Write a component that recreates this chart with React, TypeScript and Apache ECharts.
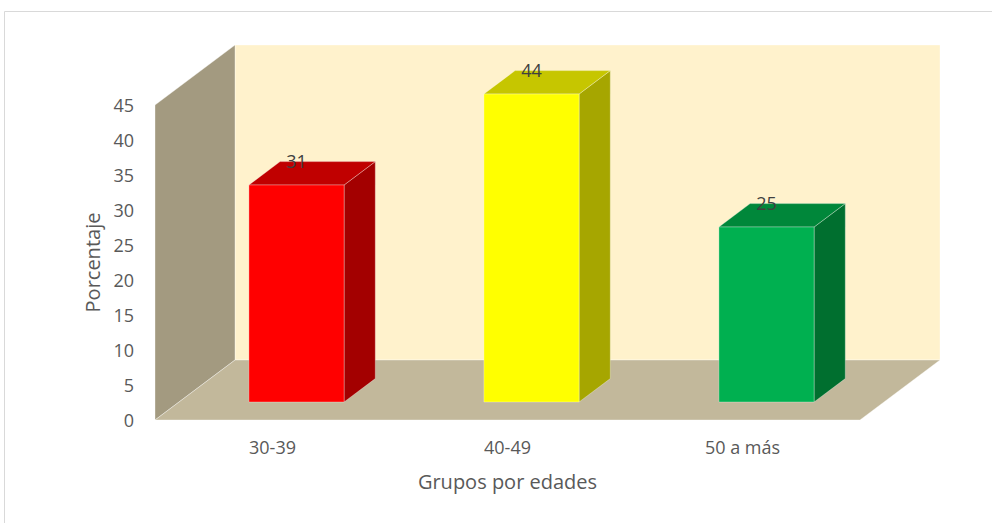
import React, { useEffect, useRef } from "react";
import * as echarts from "echarts";

const categories = ["30-39", "40-49", "50 a más"];
const values = [31, 44, 25];
const yMin = 0;
const yMax = 45;
const yStep = 5;

const frontColors = ["#FF0000", "#FFFF00", "#00B050"];
const topColors = ["#C00000", "#C6C600", "#00873A"];
const sideColors = ["#A30000", "#A6A600", "#006F2F"];

const DEPTH_X = 80;
const DEPTH_Y = -60;
const BAR_D0 = 0.3;
const BAR_D1 = 0.69;
const BAR_W = 0.405;
const FONT = '"Open Sans", "Liberation Sans", sans-serif';

export default function App() {
  const ref = useRef<HTMLDivElement>(null);
  useEffect(() => {
    if (!ref.current) return;
    const chart = echarts.init(ref.current, null, { renderer: "svg" });
    const option: any = {
      animation: false,
      backgroundColor: "#FFFFFF",
      graphic: [
        {
          type: "rect",
          shape: { x: 4.5, y: 11.5, width: 1100, height: 700 },
          style: { fill: "none", stroke: "#D9D9D9", lineWidth: 1 },
          silent: true,
          z: 0,
        },
      ],
      grid: { left: 155, right: 132, top: 105, bottom: 103, containLabel: false },
      xAxis: {
        type: "category",
        data: categories,
        axisLine: { show: false },
        axisTick: { show: false },
        axisLabel: { color: "#595959", fontSize: 18, fontFamily: FONT, margin: 18 },
        name: "Grupos por edades",
        nameLocation: "middle",
        nameGap: 51,
        nameTextStyle: { color: "#595959", fontSize: 20, fontFamily: FONT },
      },
      yAxis: {
        type: "value",
        min: yMin,
        max: yMax,
        interval: yStep,
        axisLine: { show: false },
        axisTick: { show: false },
        splitLine: { show: false },
        axisLabel: { color: "#595959", fontSize: 18, fontFamily: FONT, margin: 21 },
        name: "Porcentaje",
        nameLocation: "middle",
        nameGap: 53,
        nameTextStyle: { color: "#595959", fontSize: 20, fontFamily: FONT },
      },
      series: [
        {
          type: "custom",
          z: 1,
          clip: false,
          silent: true,
          data: [[0, 0]],
          renderItem: (params: any, api: any) => {
            const cs = params.coordSys;
            const x0 = cs.x;
            const x1 = cs.x + cs.width;
            const yT = cs.y;
            const yB = cs.y + cs.height;
            const edge = "rgba(255,255,255,0.35)";
            return {
              type: "group",
              children: [
                {
                  type: "polygon",
                  shape: {
                    points: [
                      [x0 + DEPTH_X, yT + DEPTH_Y],
                      [x1 + DEPTH_X, yT + DEPTH_Y],
                      [x1 + DEPTH_X, yB + DEPTH_Y],
                      [x0 + DEPTH_X, yB + DEPTH_Y],
                    ],
                  },
                  style: { fill: "#FFF2CC", stroke: edge, lineWidth: 1 },
                },
                {
                  type: "polygon",
                  shape: {
                    points: [
                      [x0, yB],
                      [x0, yT],
                      [x0 + DEPTH_X, yT + DEPTH_Y],
                      [x0 + DEPTH_X, yB + DEPTH_Y],
                    ],
                  },
                  style: { fill: "#A39A80", stroke: edge, lineWidth: 1 },
                },
                {
                  type: "polygon",
                  shape: {
                    points: [
                      [x0, yB],
                      [x0 + DEPTH_X, yB + DEPTH_Y],
                      [x1 + DEPTH_X, yB + DEPTH_Y],
                      [x1, yB],
                    ],
                  },
                  style: { fill: "#C2B89B", stroke: edge, lineWidth: 1 },
                },
              ],
            };
          },
        },
        {
          type: "custom",
          z: 2,
          clip: false,
          data: values.map((v, i) => [i, v]),
          renderItem: (params: any, api: any) => {
            const i = api.value(0);
            const v = api.value(1);
            const base = api.coord([i, 0]);
            const top = api.coord([i, v]);
            const w = api.size([1, 0])[0] * BAR_W;
            const ox = DEPTH_X * BAR_D0;
            const oy = DEPTH_Y * BAR_D0;
            const dx = DEPTH_X * (BAR_D1 - BAR_D0);
            const dy = DEPTH_Y * (BAR_D1 - BAR_D0);
            const l = base[0] - w / 2 + ox;
            const r = base[0] + w / 2 + ox;
            const b = base[1] + oy;
            const t = top[1] + oy;
            const edge = "rgba(255,255,255,0.3)";
            return {
              type: "group",
              children: [
                {
                  type: "polygon",
                  shape: { points: [[r, b], [r, t], [r + dx, t + dy], [r + dx, b + dy]] },
                  style: { fill: sideColors[i], stroke: edge, lineWidth: 1 },
                },
                {
                  type: "polygon",
                  shape: { points: [[l, t], [r, t], [r + dx, t + dy], [l + dx, t + dy]] },
                  style: { fill: topColors[i], stroke: edge, lineWidth: 1 },
                },
                {
                  type: "rect",
                  shape: { x: l, y: t, width: r - l, height: b - t },
                  style: { fill: frontColors[i], stroke: edge, lineWidth: 1 },
                },
                {
                  type: "text",
                  style: {
                    x: (l + r) / 2,
                    y: t + dy - 1,
                    text: String(v),
                    fill: "#404040",
                    fontSize: 18,
                    fontFamily: FONT,
                    align: "center",
                    verticalAlign: "middle",
                  },
                },
              ],
            };
          },
        },
      ],
    };
    chart.setOption(option);
    return () => chart.dispose();
  }, []);
  return (
    <div
      ref={ref}
      style={{ position: "fixed", left: 0, top: 0, width: 992, height: 523 }}
    />
  );
}
